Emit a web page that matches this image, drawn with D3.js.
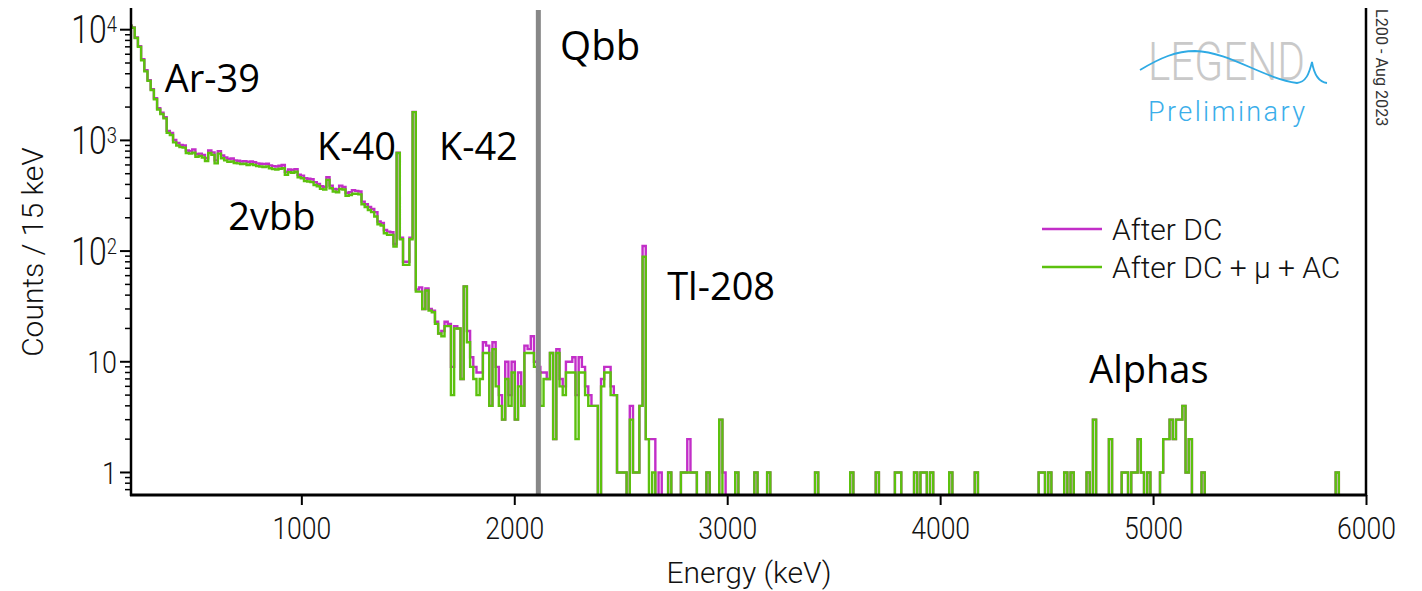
<!DOCTYPE html>
<html><head><meta charset="utf-8">
<script src="https://cdn.jsdelivr.net/npm/d3@7"></script>
<style>body{margin:0;background:#fff}svg{display:block}</style>
</head><body>
<svg id="chart" width="1422" height="591"></svg>
<script>
// ---------------- data ----------------
const binWidth = 15;          // keV per bin
const firstBinCenter = 195;   // keV, centre of first bin of the dense arrays
// "After DC" counts, bins from 195 keV up to 2625 keV
const afterDC_low = [
 10900,10500,8500,7100,5400,4300,3500,2900,2400,1950,1780,1620,1220,1170,1010,950,910,900,810,800,
 830,750,760,740,690,810,780,660,800,730,700,680,685,660,655,645,650,640,645,635,
 620,615,610,615,595,585,580,590,600,520,545,540,550,490,480,455,450,445,420,405,
 385,380,465,390,365,360,390,380,335,340,355,350,345,280,265,250,240,225,185,180,
 155,150,148,116,775,132,80,80,132,1810,45,47,30,46,30,29,23,18,19,23,
 22,9,21,20,7,48,19,11,9,8,8,15,14,4,15,9,5,3,10,5,
 10,3,8,4,14,13,17,10,9,8,8,7,12,2,13,7,6,10,10,11,
 5,11,9,6,5,4,4,0,7,9,9,6,5,1,1,1,0,4,1,1,
 4,111,2
];
// "After DC + mu + AC" counts, same bins
const afterAC_low = [
 10800,10400,8400,7000,5300,4200,3450,2850,2350,1900,1730,1580,1170,1120,960,900,870,860,770,760,
 775,710,725,700,650,770,740,620,760,690,660,640,645,625,620,610,615,600,610,600,
 585,580,575,580,560,550,545,555,560,490,515,510,520,465,455,430,425,420,395,385,
 365,360,440,370,345,340,365,360,315,320,330,330,325,265,250,235,225,205,175,170,
 145,140,140,110,770,128,75,75,128,1800,43,43,30,44,29,28,22,18,17,21,
 21,5,20,20,7,48,15,9,7,5,7,12,12,4,13,6,4,3,7,4,
 8,3,6,4,12,12,12,9,8,4,7,7,12,2,12,6,5,8,8,8,
 2,8,8,5,4,4,4,0,6,8,8,5,5,1,1,1,0,3,1,1,
 4,89,2
];
// sparse high-energy bins (bin centre energy in keV) and their counts
const highEnergy = [2640,2655,2685,2730,2790,2805,2820,2835,2850,2910,2970,2985,3045,3135,3195,3420,3585,3705,3795,3810,
 3885,3915,3930,3960,4050,4170,4470,4485,4515,4590,4620,4695,4725,4800,4860,4875,4905,4920,4935,4950,
 4980,5040,5055,5070,5085,5100,5115,5130,5145,5160,5175,5235,5865];
const highDC = [2,2,1,1,1,1,2,1,1,1,3,1,1,1,1,1,1,1,1,1,
 1,1,1,1,1,1,1,1,1,1,1,1,3,2,1,1,1,1,2,1,
 1,1,2,2,3,2,3,3,4,1,2,1,1];
const highAC = [0,1,0,1,1,1,1,1,1,1,3,0,1,1,1,1,1,1,1,1,
 1,1,1,1,1,1,1,1,1,1,1,1,3,2,1,1,1,1,2,1,
 1,1,2,2,3,2,3,3,4,1,2,1,1];

const xTickValues = [1000,2000,3000,4000,5000,6000];
const yMajorValues = [1,10,100,1000,10000];
const yMajorBase = ["1","10","10","10","10"];
const yMajorExp = ["","","2","3","4"];
const qbbLineEnergy = 2113;
const seriesNames = ["After DC","After DC + \u03bc + AC"];
const seriesColors = ["#c22ec8","#5cc10e"];
// annotation labels placed in data coordinates (keV, counts at baseline)
const labelText = ["Ar-39","K-40","K-42","2vbb","Qbb","Tl-208","Alphas"];
const labelE    = [358,1074,1646,657,2215,2718,4700];
const labelC    = [2735,665,665,155,5325,36.2,6.43];

// ---------------- layout ----------------
const L=131, R=1366, T=8, B=495;
const svg = d3.select("#chart");
const x = d3.scaleLinear().domain([200,6000]).range([L,R]);
const y = d3.scaleLog().domain([0.626,15700]).range([B,T]);

const nBins = Math.ceil((6000 - (firstBinCenter - binWidth/2)) / binWidth);
function buildHist(dense, eList, cList){
  const h = new Array(nBins).fill(0);
  dense.forEach((v,i)=>{h[i]=v;});
  eList.forEach((e,i)=>{h[Math.round((e-firstBinCenter)/binWidth)] = cList[i];});
  return h;
}
function stepPoints(h){
  const pts=[];
  h.forEach((v,k)=>{
    const lo = firstBinCenter - binWidth/2 + k*binWidth, hi = lo + binWidth;
    const yy = v>0 ? y(v) : B+30;
    pts.push([x(lo),yy],[x(hi),yy]);
  });
  return pts;
}
const histDC = buildHist(afterDC_low, highEnergy, highDC);
const histAC = buildHist(afterAC_low, highEnergy, highAC);

svg.append("defs").append("clipPath").attr("id","plotclip")
  .append("rect").attr("x",L).attr("y",0).attr("width",R-L).attr("height",B);

const line = d3.line();
const g = svg.append("g").attr("clip-path","url(#plotclip)");
[histDC,histAC].forEach((h,i)=>{
  g.append("path").attr("d",line(stepPoints(h)))
   .attr("fill","none").attr("stroke",seriesColors[i]).attr("stroke-width",2.4)
   .attr("stroke-linejoin","miter");
});
// Qbb line
svg.append("line").attr("x1",x(qbbLineEnergy)).attr("x2",x(qbbLineEnergy))
  .attr("y1",T+2).attr("y2",B).attr("stroke","#878787").attr("stroke-width",5);

// axes
const tickFont = "Roboto, 'DejaVu Sans', sans-serif";
const xAxis = d3.axisBottom(x).tickValues(xTickValues).tickSize(10).tickPadding(8).tickFormat(d3.format("d"));
const gx = svg.append("g").attr("transform",`translate(0,${B})`).call(xAxis);
gx.select(".domain").remove();
gx.selectAll(".tick line").attr("stroke","#000").attr("stroke-width",2);
gx.selectAll(".tick text").attr("font-family",tickFont).attr("font-weight",300)
  .attr("font-size",32).attr("fill","#111").attr("dy","0.82em").attr("transform","scale(0.83,1)");

// y minor ticks
const minor=[];
for(let d=-1; d<=4; d++) for(let m=2;m<=9;m++){ const v=m*Math.pow(10,d); if(v>=0.626 && v<=15700) minor.push(v); }
svg.append("g").selectAll("line").data(minor).join("line")
  .attr("x1",L-6).attr("x2",L).attr("y1",d=>y(d)).attr("y2",d=>y(d))
  .attr("stroke","#000").attr("stroke-width",1.5);
svg.append("g").selectAll("line").data(yMajorValues).join("line")
  .attr("x1",L-11).attr("x2",L).attr("y1",d=>y(d)).attr("y2",d=>y(d))
  .attr("stroke","#000").attr("stroke-width",2);
const ylabG = svg.append("g").selectAll("g").data(yMajorValues).join("g")
  .attr("transform",d=>`translate(${L-14},${y(d)}) scale(0.84,1)`);
ylabG.each(function(d,i){
  const t=d3.select(this).append("text").attr("x",0).attr("y",0).attr("text-anchor","end")
    .attr("font-family",tickFont).attr("font-weight",300).attr("fill","#111");
  if(yMajorExp[i]){
    t.attr("font-size",38).attr("dy","0.36em");
    t.append("tspan").text(yMajorBase[i]);
    t.append("tspan").attr("dy","-0.5em").attr("font-size",22).text(yMajorExp[i]);
  } else {
    t.attr("font-size",32).attr("dy","0.36em").text(yMajorBase[i]);
  }
});

// frame lines
svg.append("line").attr("x1",L).attr("x2",L).attr("y1",T).attr("y2",B+1).attr("stroke","#000").attr("stroke-width",2.5);
svg.append("line").attr("x1",R).attr("x2",R).attr("y1",T).attr("y2",B+1).attr("stroke","#000").attr("stroke-width",2.5);
svg.append("line").attr("x1",L-1).attr("x2",R+1).attr("y1",B).attr("y2",B).attr("stroke","#000").attr("stroke-width",3);

// axis titles
svg.append("text").attr("x",749).attr("y",583).attr("text-anchor","middle")
  .attr("font-family",tickFont).attr("font-weight",300).attr("font-size",30).attr("fill","#111").text("Energy (keV)");
svg.append("text").attr("transform","translate(43,252) rotate(-90)").attr("text-anchor","middle")
  .attr("font-family",tickFont).attr("font-weight",300).attr("font-size",30).attr("fill","#111").text("Counts / 15 keV");

// annotations
const annFont = "'Open Sans', 'DejaVu Sans', sans-serif";
labelText.forEach((t,i)=>{
  svg.append("text").attr("x",x(labelE[i])).attr("y",y(labelC[i]))
    .attr("font-family",annFont).attr("font-size", t==="Qbb"?40:38).attr("fill","#000").text(t);
});

// legend
const legY=[229,267];
seriesNames.forEach((n,i)=>{
  svg.append("line").attr("x1",1042).attr("x2",1102).attr("y1",legY[i]).attr("y2",legY[i])
    .attr("stroke",seriesColors[i]).attr("stroke-width",2.5);
  svg.append("text").attr("x",1112).attr("y",legY[i]).attr("dy","0.36em")
    .attr("font-family",tickFont).attr("font-weight",300).attr("font-size",30).attr("fill","#111").text(n);
});

// LEGEND logo
svg.append("text").attr("x",1148).attr("y",80).attr("font-family",tickFont).attr("font-weight",300)
  .attr("font-size",53).attr("fill","#c9c9c9").attr("textLength",157).attr("lengthAdjust","spacingAndGlyphs").text("LEGEND");
svg.append("path").attr("d","M1140,70 C1160,58 1176,51 1195,51 C1230,52 1262,78 1297,83 C1306,82 1309,74 1312,62 C1314,74 1318,82 1327,83")
  .attr("fill","none").attr("stroke","#2eaae4").attr("stroke-width",1.8);
svg.append("text").attr("x",1148).attr("y",121).attr("font-family",tickFont).attr("font-weight",300)
  .attr("font-size",27).attr("letter-spacing",2.4).attr("fill","#3aaeea").text("Preliminary");

// side stamp
svg.append("text").attr("transform","translate(1376,9) rotate(90)").attr("font-family",tickFont)
  .attr("font-size",16.2).attr("fill","#333").text("L200 - Aug 2023");
</script>
</body></html>
